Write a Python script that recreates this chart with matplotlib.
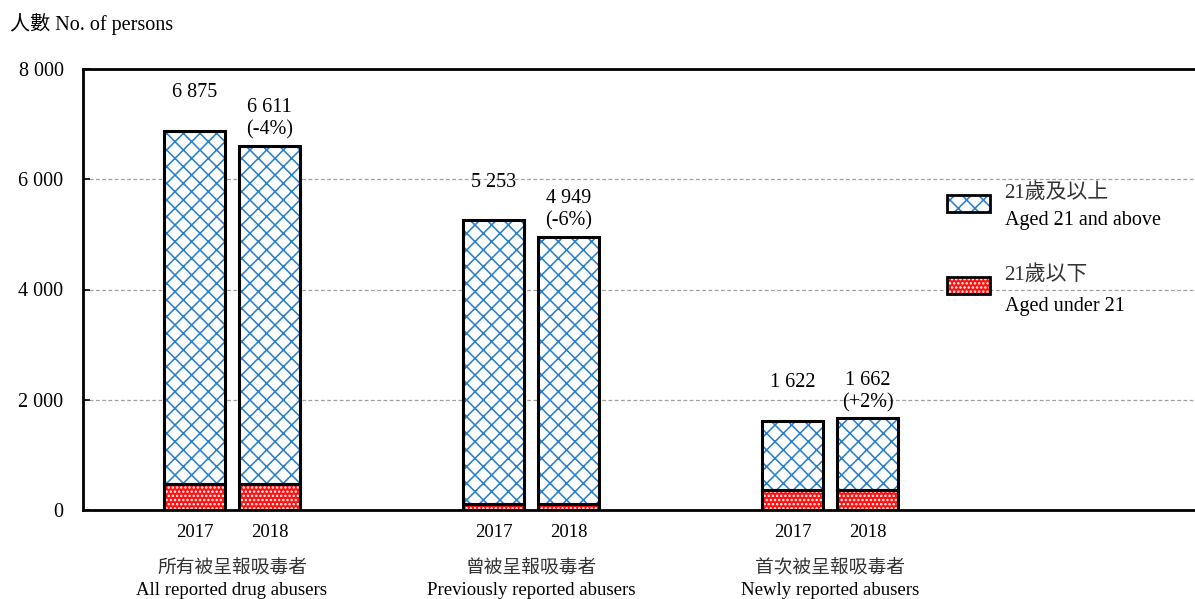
import matplotlib
matplotlib.use("Agg")
import matplotlib.pyplot as plt
import numpy as np
from matplotlib.patches import Rectangle

# ---- data ----
groups_zh = ["所有被呈報吸毒者", "曾被呈報吸毒者", "首次被呈報吸毒者"]
groups_en = ["All reported drug abusers", "Previously reported abusers", "Newly reported abusers"]
years = ["2017", "2018"]
totals_2017 = [6875, 5253, 1622]
totals_2018 = [6611, 4949, 1662]
under21_2017 = [470, 110, 360]
under21_2018 = [475, 100, 365]
pct_change = ["(-4%)", "(-6%)", "(+2%)"]
yticks = [0, 2000, 4000, 6000, 8000]
ytick_labels = ["0", "2 000", "4 000", "6 000", "8 000"]

FAM = ["Liberation Serif", "Noto Sans CJK TC", "DejaVu Sans"]
plt.rcParams['font.family'] = FAM
plt.rcParams['hatch.linewidth'] = 1.15

fig = plt.figure(figsize=(11.95, 5.99), dpi=100)
ax = fig.add_axes([83/1195, 1-510/599, 1-83/1195, (510-69)/599])

blue = "#2a80cc"
red = "#ff1010"
width = 0.207
offsets = [-0.1254, 0.1254]
x = np.arange(len(groups_zh)) * 1.0

def fmt(v):
    return f"{v:,}".replace(",", " ")

for yi, (tot, und) in enumerate([(totals_2017, under21_2017), (totals_2018, under21_2018)]):
    pos = x + offsets[yi]
    tot = np.array(tot); und = np.array(und)
    above = tot - und
    ax.bar(pos, und, width, color=red, edgecolor="white", hatch="....", linewidth=0, zorder=3)
    ax.bar(pos, above, width, bottom=und, color="white", edgecolor=blue, hatch="xx", linewidth=0, zorder=3)
    ax.bar(pos, und, width, fill=False, edgecolor="black", linewidth=2.2, zorder=4)
    ax.bar(pos, above, width, bottom=und, fill=False, edgecolor="black", linewidth=2.2, zorder=4)
    for i, p in enumerate(pos):
        ax.annotate(fmt(tot[i]), (p, tot[i]), xytext=(0, 27.5), textcoords="offset points",
                    ha="center", va="center", fontsize=14.5)
        if yi == 1:
            ax.annotate(pct_change[i], (p, tot[i]), xytext=(0, 11.5), textcoords="offset points",
                        ha="center", va="center", fontsize=14.5)
        ax.annotate(years[yi], (p, 0), xytext=(0, -16), textcoords="offset points",
                    ha="center", va="center", fontsize=13.5)

for i, gx in enumerate(x):
    ax.annotate(groups_zh[i], (gx, 0), xytext=(0, -41), textcoords="offset points",
                ha="center", va="center", fontsize=13.5, color="#333333", family=["Noto Sans CJK TC"])
    ax.annotate(groups_en[i], (gx, 0), xytext=(0, -58), textcoords="offset points",
                ha="center", va="center", fontsize=13.5)

ax.set_ylim(0, 8000)
ax.set_xlim((83-232)/299, (1195-232)/299)
ax.set_yticks(yticks)
ax.set_yticklabels(ytick_labels, fontsize=14.5)
ax.set_xticks([])
ax.tick_params(axis="y", direction="in", length=5, width=1.2, pad=14)
for yv in yticks[1:-1]:
    ax.axhline(yv, color="#a0a0a0", linestyle=(0, (3, 2)), linewidth=0.9, zorder=1)
for s in ["left", "bottom", "top"]:
    ax.spines[s].set_linewidth(2)
ax.spines["right"].set_visible(False)

fig.text(10/1195, 1-24/599, "人數 No. of persons", fontsize=14.5, va="center", ha="left")

# legend
lx, lw, lh = 947/1195, 43/1195, 17/599
r1 = Rectangle((lx, 1-212/599), lw, lh, transform=fig.transFigure, facecolor="white",
               edgecolor=blue, hatch="xx", linewidth=0)
r1b = Rectangle((lx, 1-212/599), lw, lh, transform=fig.transFigure, fill=False,
                edgecolor="black", linewidth=2)
r2 = Rectangle((lx, 1-294/599), lw, lh, transform=fig.transFigure, facecolor=red,
               edgecolor="white", hatch="....", linewidth=0)
r2b = Rectangle((lx, 1-294/599), lw, lh, transform=fig.transFigure, fill=False,
                edgecolor="black", linewidth=2)
for r in [r1, r1b, r2, r2b]:
    fig.add_artist(r)
fig.text(1004/1195, 1-193/599, "21歲及以上", fontsize=15, va="center", color="#333333")
fig.text(1005/1195, 1-220/599, "Aged 21 and above", fontsize=14.5, va="center")
fig.text(1004/1195, 1-275/599, "21歲以下", fontsize=15, va="center", color="#333333")
fig.text(1005/1195, 1-306/599, "Aged under 21", fontsize=14.5, va="center")

fig.savefig("out.png", dpi=100)
